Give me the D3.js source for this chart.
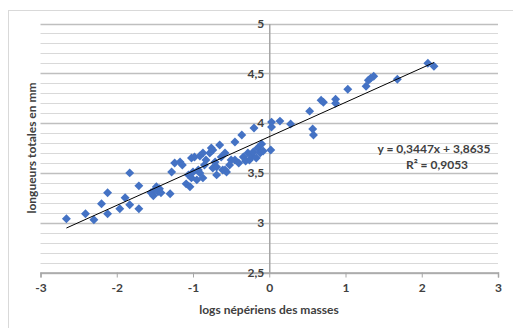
<!DOCTYPE html>
<html>
<head>
<meta charset="utf-8">
<script src="https://cdn.jsdelivr.net/npm/d3@7"></script>
<style>
  body { margin: 0; background: #fff; }
  text { font-family: Lato, "Open Sans", sans-serif; font-weight: bold; fill: #404040; }
</style>
</head>
<body>
<script>
// log masses (x) and log lengths (y)
const logMasses = [
  -2.66, -2.41, -2.30, -2.20, -2.12, -2.12, -1.96, -1.89, -1.83, -1.83,
  -1.71, -1.71, -1.55, -1.52, -1.50, -1.48, -1.46, -1.44, -1.42, -1.30,
  -1.28, -1.24, -1.17, -1.14, -1.09, -1.06, -1.04, -1.02, -1.02, -0.98,
  -1.00, -0.95, -0.93, -0.91, -0.91, -0.87, -0.87, -0.85, -0.83, -0.78,
  -0.76, -0.74, -0.74, -0.71, -0.69, -0.69, -0.65, -0.63, -0.61, -0.58,
  -0.58, -0.56, -0.52, -0.50, -0.45, -0.45, -0.40, -0.36, -0.34, -0.31,
  -0.28, -0.26, -0.22, -0.21, -0.20, -0.17, -0.15, -0.12, -0.10, -0.08,
   0.03,  0.03,  0.02,  0.14,  0.28,  0.53,  0.57,  0.58,  0.68,  0.71,
   0.87,  0.87,  1.03,  1.27,  1.30,  1.33,  1.37,  1.68,  2.08,  2.16
];
const logLengths = [
  3.04, 3.09, 3.03, 3.19, 3.30, 3.09, 3.14, 3.25, 3.50, 3.18,
  3.37, 3.14, 3.30, 3.27, 3.33, 3.36, 3.31, 3.34, 3.30, 3.29,
  3.51, 3.60, 3.61, 3.58, 3.39, 3.48, 3.36, 3.45, 3.65, 3.66,
  3.51, 3.43, 3.53, 3.50, 3.67, 3.70, 3.45, 3.58, 3.63, 3.70,
  3.75, 3.73, 3.55, 3.61, 3.56, 3.48, 3.78, 3.66, 3.53, 3.70,
  3.53, 3.51, 3.58, 3.63, 3.63, 3.81, 3.60, 3.88, 3.66, 3.62,
  3.70, 3.63, 3.67, 3.71, 3.95, 3.65, 3.75, 3.70, 3.79, 3.72,
  4.01, 3.96, 3.73, 4.02, 3.99, 4.12, 3.94, 3.88, 4.23, 4.21,
  4.24, 4.20, 4.34, 4.37, 4.43, 4.45, 4.47, 4.44, 4.60, 4.57
];
const xTicks = [-3, -2, -1, 0, 1, 2, 3];
const yTicks = [2.5, 3, 3.5, 4, 4.5, 5];
const slope = 0.3447, intercept = 3.8635, r2 = 0.9053;
const eqLabel = "y = 0,3447x + 3,8635";
const r2Label = "R² = 0,9053";

const width = 513, height = 328;
const plot = { left: 40.5, right: 498, top: 23.5, bottom: 272.5 };

const frFmt = d => String(d).replace(".", ",");

const svg = d3.select("body").append("svg")
  .attr("width", width)
  .attr("height", height);

// chart border
svg.append("rect")
  .attr("x", 8.5).attr("y", 10.5)
  .attr("width", 530).attr("height", 340)
  .attr("fill", "none")
  .attr("stroke", "#d9d9d9");

const x = d3.scaleLinear().domain([-3, 3]).range([plot.left, plot.right]);
const y = d3.scaleLinear().domain([2.5, 5]).range([plot.bottom, plot.top]);

// minor + major gridlines
const minor = d3.range(26).map(i => 2.5 + i * 0.1);
svg.append("g").selectAll("line")
  .data(minor)
  .join("line")
  .attr("x1", plot.left).attr("x2", plot.right)
  .attr("y1", d => Math.round(y(d)) + 0.5).attr("y2", d => Math.round(y(d)) + 0.5)
  .attr("stroke", (d, i) => i % 5 === 0 ? "#bfbfbf" : "#d9d9d9")
  .attr("stroke-width", (d, i) => i % 5 === 0 ? 1.5 : 1);

// x axis at the bottom
const xAxis = svg.append("g")
  .attr("transform", `translate(0,${plot.bottom})`)
  .call(d3.axisBottom(x).tickValues(xTicks).tickSize(5).tickPadding(6).tickFormat(d => d));
xAxis.select(".domain").attr("stroke", "#a6a6a6").attr("stroke-width", 1.5);
xAxis.selectAll(".tick line").attr("stroke", "#a6a6a6");
xAxis.selectAll("text").attr("font-size", 12).style("font-family", "Lato, sans-serif").style("font-weight", "bold").attr("fill", "#404040");

// y axis crossing at x = 0
const yAxis = svg.append("g")
  .attr("transform", `translate(${x(0)},0)`)
  .call(d3.axisLeft(y).tickValues(yTicks).tickSize(0).tickPadding(5).tickFormat(frFmt));
yAxis.select(".domain").attr("stroke", "#a6a6a6").attr("stroke-width", 1.5);
yAxis.selectAll("text").attr("font-size", 12).style("font-family", "Lato, sans-serif").style("font-weight", "bold").attr("fill", "#404040");

// points
const pts = logMasses.map((m, i) => ({ m, l: logLengths[i] }));
svg.append("g").selectAll("path")
  .data(pts)
  .join("path")
  .attr("transform", d => `translate(${x(d.m)},${y(d.l)}) rotate(45)`)
  .attr("d", d3.symbol(d3.symbolSquare, 40))
  .attr("fill", "#4472c4");

// trendline
const ext = d3.extent(logMasses);
svg.append("line")
  .attr("x1", x(ext[0])).attr("y1", y(slope * ext[0] + intercept))
  .attr("x2", x(ext[1])).attr("y2", y(slope * ext[1] + intercept))
  .attr("stroke", "#000")
  .attr("stroke-width", 1);

// equation
svg.append("text")
  .attr("x", 434).attr("y", 153)
  .attr("text-anchor", "middle")
  .attr("font-size", 12)
  .text(eqLabel);
svg.append("text")
  .attr("x", 437).attr("y", 169)
  .attr("text-anchor", "middle")
  .attr("font-size", 12)
  .text(r2Label);

// axis titles
svg.append("text")
  .attr("x", 269).attr("y", 314)
  .attr("text-anchor", "middle")
  .attr("font-size", 12)
  .text("logs népériens des masses");
svg.append("text")
  .attr("transform", `translate(36,148) rotate(-90)`)
  .attr("text-anchor", "middle")
  .attr("font-size", 12)
  .text("longueurs totales en mm");
</script>
</body>
</html>
